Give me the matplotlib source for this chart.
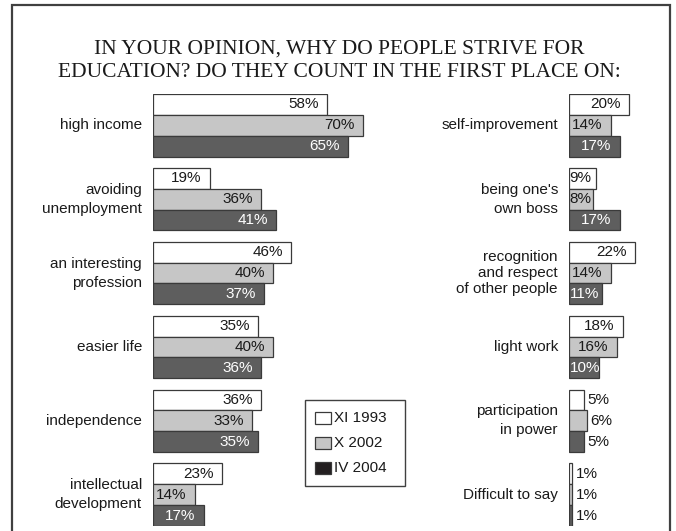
import matplotlib.pyplot as plt
from matplotlib.patches import Rectangle

# --- DATA ---
series = ['XI 1993', 'X 2002', 'IV 2004']
left_cats = ['high income', 'avoiding\nunemployment', 'an interesting\nprofession',
             'easier life', 'independence', 'intellectual\ndevelopment']
left_1993 = [58, 19, 46, 35, 36, 23]
left_2002 = [70, 36, 40, 40, 33, 14]
left_2004 = [65, 41, 37, 36, 35, 17]

right_cats = ['self-improvement', "being one's\nown boss",
              'recognition\nand respect\nof other people', 'light work',
              'participation\nin power', 'Difficult to say']
right_1993 = [20, 9, 22, 18, 5, 1]
right_2002 = [14, 8, 14, 16, 6, 1]
right_2004 = [17, 17, 11, 10, 5, 1]

title = "IN YOUR OPINION, WHY DO PEOPLE STRIVE FOR\nEDUCATION? DO THEY COUNT IN THE FIRST PLACE ON:"

# --- STYLE ---
colors = ['#ffffff', '#c6c6c6', '#5e5e5e']
legend_colors = ['#ffffff', '#c6c6c6', '#231f20']
text_colors = ['#1a1a1a', '#1a1a1a', '#ffffff']
edge = '#3a3a3a'
plt.rcParams['font.family'] = ['Liberation Sans', 'DejaVu Sans']

W, H = 676, 531
fig = plt.figure(figsize=(W / 100, H / 100), dpi=100)

# frame around the whole chart
fig.patches.append(Rectangle((12 / W, -0.05), (670 - 12) / W, 1 - 5 / H + 0.05,
                             transform=fig.transFigure, fill=False,
                             edgecolor='#404040', linewidth=1.6))

fig.text(339 / W, 1 - 61 / H, title, ha='center', va='center',
         family='Liberation Serif', fontsize=15.5, linespacing=1.28, color='#1a1a1a')

PX = 3.0          # pixels per percent
TOP, BOT = 94, 526
bar_h = 21 / 74.4
ylo, yhi = -0.4234, 5.4234


def panel(x0, xmax, cats, vals):
    ax = fig.add_axes([x0 / W, 1 - BOT / H, xmax * PX / W, (BOT - TOP) / H])
    ax.set_xlim(0, xmax)
    ax.set_ylim(yhi, ylo)
    ax.axis('off')
    for j, v_list in enumerate(vals):
        ys = [i + (j - 1) * bar_h for i in range(len(cats))]
        ax.barh(ys, v_list, height=bar_h, color=colors[j], edgecolor=edge,
                linewidth=0.9, align='center')
        for y, v in zip(ys, v_list):
            if v >= 13:
                ax.annotate(f'{v}%', (v, y), xytext=(-6, 0), textcoords='offset points',
                            ha='right', va='center', fontsize=11, color=text_colors[j])
            elif v >= 8:
                ax.annotate(f'{v}%', (0, y), xytext=(0.5, 0), textcoords='offset points',
                            ha='left', va='center', fontsize=11, color=text_colors[j])
            else:
                ax.annotate(f'{v}%', (v, y), xytext=(2.5, 0), textcoords='offset points',
                            ha='left', va='center', fontsize=11, color='#1a1a1a')
    for i, c in enumerate(cats):
        n_lines = c.count('\n') + 1
        ax.annotate(c, (0, i), xycoords=('axes fraction', 'data'), xytext=(-8, 0),
                    textcoords='offset points', ha='right', va='center',
                    multialignment='right', fontsize=11,
                    linespacing=1.45 if n_lines == 2 else 1.2,
                    color='#1a1a1a')
    return ax


panel(153, 80, left_cats, [left_1993, left_2002, left_2004])
panel(569, 30, right_cats, [right_1993, right_2002, right_2004])

# legend box drawn by hand to match the reference's proportions
fig.patches.append(Rectangle((305 / W, 1 - 486 / H), 100 / W, 86 / H,
                             transform=fig.transFigure, facecolor='white',
                             edgecolor='#404040', linewidth=1.0))
for k, (name, c) in enumerate(zip(series, legend_colors)):
    yc = 418 + 25 * k
    fig.patches.append(Rectangle((315 / W, 1 - (yc + 6) / H), 16 / W, 12 / H,
                                 transform=fig.transFigure, facecolor=c,
                                 edgecolor=edge, linewidth=0.9))
    fig.text(334 / W, 1 - yc / H, name, ha='left', va='center', fontsize=11,
             color='#1a1a1a')

fig.savefig('out.png', dpi=100)
